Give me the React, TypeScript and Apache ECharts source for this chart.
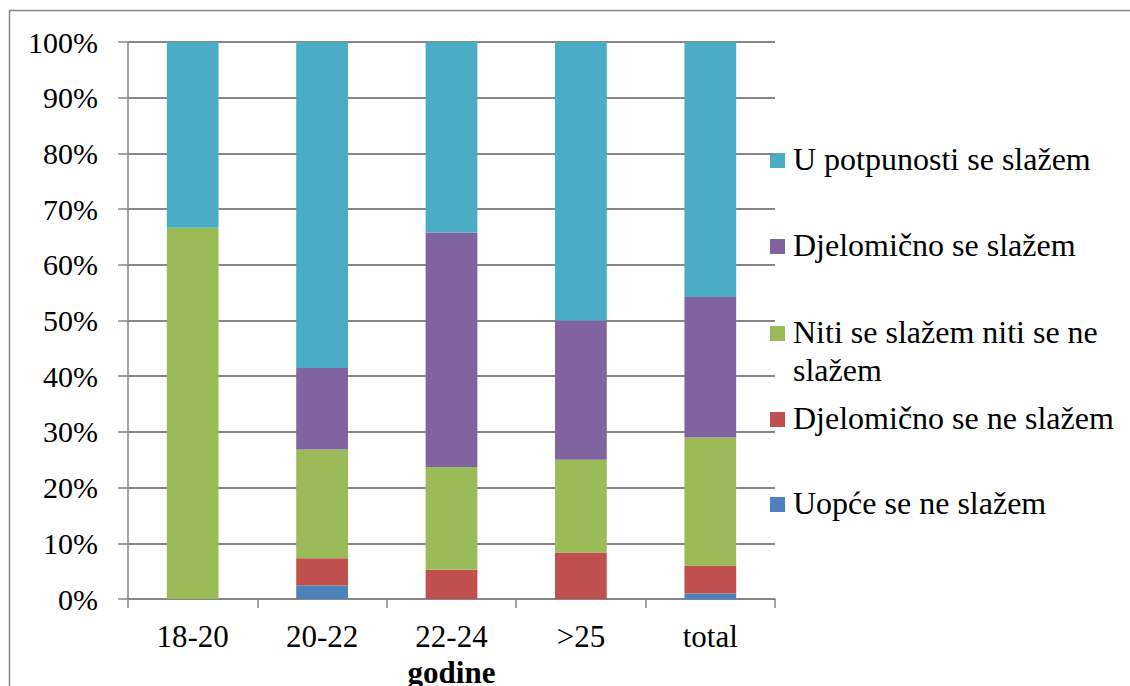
import React, { useEffect, useRef } from "react";
import * as echarts from "echarts";

const categories = ["18-20", "20-22", "22-24", ">25", "total"];
const seriesNames = [
  "Uopće se ne slažem",
  "Djelomično se ne slažem",
  "Niti se slažem niti se ne slažem",
  "Djelomično se slažem",
  "U potpunosti se slažem",
];
const uopce = [0, 2.44, 0, 0, 1.0];
const djelNeSlazem = [0, 4.88, 5.26, 8.33, 5.0];
const niti = [66.67, 19.51, 18.42, 16.67, 23.0];
const djelSlazem = [0, 14.63, 42.11, 25.0, 25.2];
const potpuno = [33.33, 58.54, 34.21, 50.0, 45.8];
const yTicks = [0, 10, 20, 30, 40, 50, 60, 70, 80, 90, 100];
const colors = ["#4F81BD", "#C0504D", "#9BBB59", "#8064A2", "#4BACC6"];

const FONT = "Liberation Serif";

function buildOption() {
  const values = [uopce, djelNeSlazem, niti, djelSlazem, potpuno];
  const legendLabels = [
    "U potpunosti se slažem",
    "Djelomično se slažem",
    "Niti se slažem niti se ne\nslažem",
    "Djelomično se ne slažem",
    "Uopće se ne slažem",
  ];
  const legendOrder = [4, 3, 2, 1, 0];
  const legendY = [161, 247, 334, 420, 505];
  const legendGraphics: any[] = [];
  legendOrder.forEach((si, i) => {
    legendGraphics.push({
      type: "rect",
      shape: { x: 770, y: legendY[i] - 8, width: 15, height: 15 },
      style: { fill: colors[si] },
    });
    legendGraphics.push({
      type: "text",
      x: 793,
      y: legendY[i] - 21,
      style: {
        text: legendLabels[i],
        fill: "#000",
        fontFamily: FONT,
        fontSize: 32,
        lineHeight: 38,
        verticalAlign: "top",
      },
    });
  });
  return {
    animation: false,
    grid: { left: 128, width: 647, top: 42, height: 557, containLabel: false, outerBoundsMode: "none" },
    xAxis: {
      type: "category",
      data: categories,
      axisLine: { lineStyle: { color: "#868686", width: 1.5 } },
      axisTick: { show: true, length: 9, alignWithLabel: false, lineStyle: { color: "#868686", width: 1.5 } },
      axisLabel: { color: "#000", fontSize: 31, fontFamily: FONT, margin: 22 },
      name: "godine",
      nameLocation: "middle",
      nameGap: 56,
      nameTextStyle: { color: "#000", fontSize: 31, fontWeight: "bold", fontFamily: FONT },
    },
    yAxis: {
      type: "value",
      min: 0,
      max: 100,
      interval: 10,
      axisLine: { show: true, lineStyle: { color: "#868686", width: 1.5 } },
      axisTick: { show: true, length: 10, lineStyle: { color: "#868686", width: 1.5 } },
      splitLine: { show: true, lineStyle: { color: "#868686", width: 2 } },
      axisLabel: {
        color: "#000",
        fontSize: 30,
        fontFamily: FONT,
        margin: 30,
        padding: [0, 0, 4, 0],
        formatter: (v: number) => (yTicks.includes(v) ? `${v}%` : ""),
      },
    },
    series: seriesNames.map((name, i) => ({
      name,
      type: "bar",
      stack: "total",
      barWidth: "40%",
      data: values[i],
      itemStyle: { color: colors[i] },
    })),
    graphic: [
      {
        type: "rect",
        shape: { x: 9.5, y: 10.5, width: 1300, height: 1000 },
        style: { fill: "none", stroke: "#868686", lineWidth: 1.5 },
        z: -1,
      },
      ...legendGraphics,
    ],
  };
}

export default function App() {
  const ref = useRef<HTMLDivElement>(null);
  useEffect(() => {
    if (!ref.current) return;
    const chart = echarts.init(ref.current, null, { renderer: "svg", width: 1130, height: 686 });
    chart.setOption(buildOption());
    return () => {
      chart.dispose();
    };
  }, []);
  return (
    <div>
      <style>{`#root svg text, #root svg tspan { font-family: "Liberation Serif", "Times New Roman", serif !important; }`}</style>
      <div
        ref={ref}
        style={{ position: "absolute", left: 0, top: 0, width: 1130, height: 686, background: "#fff" }}
      />
    </div>
  );
}
